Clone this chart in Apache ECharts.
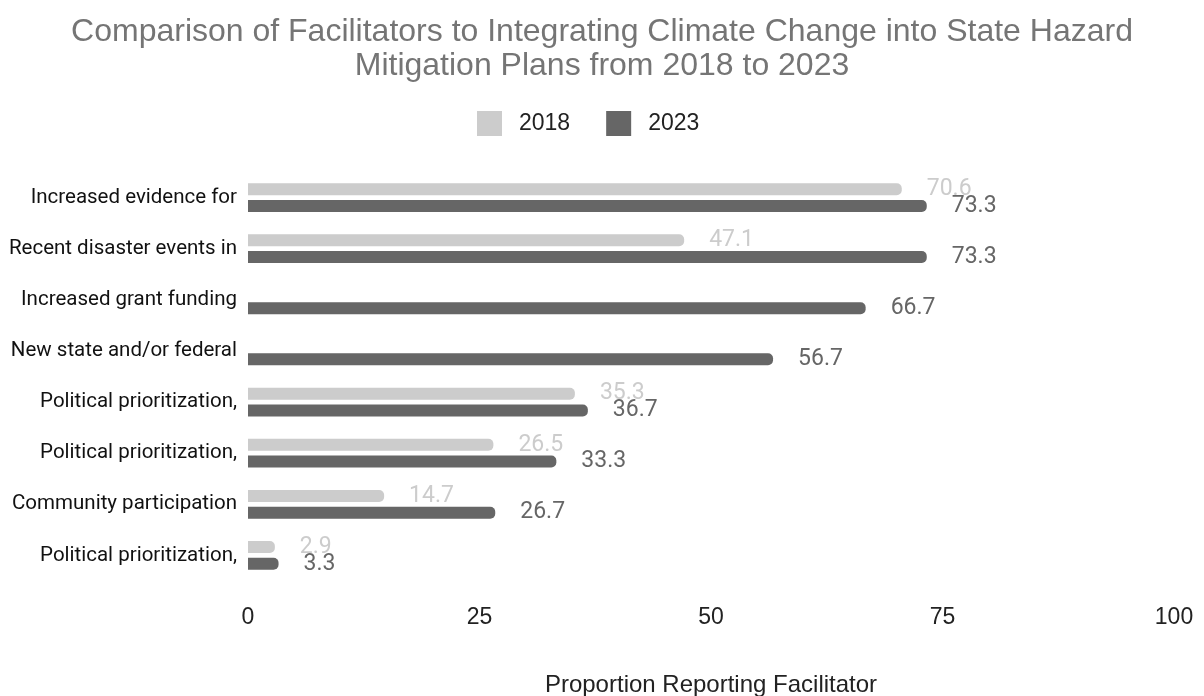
<!DOCTYPE html>
<html>
<head>
<meta charset="utf-8">
<script src="https://cdn.jsdelivr.net/npm/echarts@6/dist/echarts.min.js"></script>
<style>
  html, body { margin: 0; padding: 0; background: #fff; }
  #chart { width: 1204px; height: 696px; }
</style>
</head>
<body>
<div id="chart"></div>
<script>
// Facilitator categories (as labelled on the axis), top to bottom
const categories = [
  'Increased evidence for',
  'Recent disaster events in',
  'Increased grant funding',
  'New state and/or federal',
  'Political prioritization,',
  'Political prioritization,',
  'Community participation',
  'Political prioritization,'
];

// Proportion of states reporting each facilitator (%)
const values2018 = [70.6, 47.1, null, null, 35.3, 26.5, 14.7, 2.9];
const values2023 = [73.3, 73.3, 66.7, 56.7, 36.7, 33.3, 26.7, 3.3];

const seriesNames = ['2018', '2023'];
const xTicks = { min: 0, max: 100, interval: 25 };

const chart = echarts.init(document.getElementById('chart'), null, { renderer: 'canvas' });

chart.setOption({
  animation: false,
  backgroundColor: '#ffffff',
  title: {
    text: 'Comparison of Facilitators to Integrating Climate Change into State Hazard\nMitigation Plans from 2018 to 2023',
    left: 'center',
    top: 10,
    textStyle: {
      fontFamily: 'Liberation Sans, Arial, sans-serif',
      fontSize: 32,
      fontWeight: 'normal',
      color: '#757575',
      lineHeight: 34
    }
  },
  legend: {
    data: seriesNames,
    top: 106,
    left: 472,
    itemWidth: 25,
    itemHeight: 25,
    itemGap: 36,
    icon: 'rect',
    itemStyle: { borderRadius: 3 },
    textStyle: {
      fontFamily: 'Liberation Sans, Arial, sans-serif',
      fontSize: 23,
      color: '#222',
      padding: [0, 0, 0, 12]
    }
  },
  grid: {
    left: 248,
    right: 30,
    top: 172,
    bottom: 115,
    containLabel: false,
    outerBoundsMode: 'none'
  },
  xAxis: {
    type: 'value',
    min: xTicks.min,
    max: xTicks.max,
    interval: xTicks.interval,
    name: 'Proportion Reporting Facilitator',
    nameLocation: 'middle',
    nameGap: 92,
    nameTextStyle: {
      fontFamily: 'Liberation Sans, Arial, sans-serif',
      fontSize: 24,
      color: '#222'
    },
    axisLine: { show: false },
    axisTick: { show: false },
    splitLine: { show: false },
    axisLabel: {
      margin: 25,
      fontFamily: 'Liberation Sans, Arial, sans-serif',
      fontSize: 23,
      color: '#222'
    }
  },
  yAxis: {
    type: 'category',
    inverse: true,
    data: categories,
    axisLine: { show: false },
    axisTick: { show: false },
    splitLine: { show: false },
    axisLabel: {
      margin: 11,
      fontFamily: 'Roboto, sans-serif',
      fontSize: 20.5,
      color: '#111'
    }
  },
  series: [
    {
      name: seriesNames[0],
      type: 'bar',
      z: 2,
      data: values2018,
      barWidth: 12,
      barGap: '40%',
      itemStyle: { color: '#cccccc', borderRadius: [0, 5, 5, 0] },
      label: {
        show: true,
        position: 'right',
        distance: 25,
        fontFamily: 'Roboto, sans-serif',
        fontSize: 23,
        color: '#cccccc'
      }
    },
    {
      name: seriesNames[1],
      type: 'bar',
      z: 3,
      data: values2023,
      barWidth: 12,
      itemStyle: { color: '#666666', borderRadius: [0, 5, 5, 0] },
      label: {
        show: true,
        position: 'right',
        distance: 25,
        fontFamily: 'Roboto, sans-serif',
        fontSize: 23,
        color: '#666666'
      }
    }
  ]
});
</script>
</body>
</html>
